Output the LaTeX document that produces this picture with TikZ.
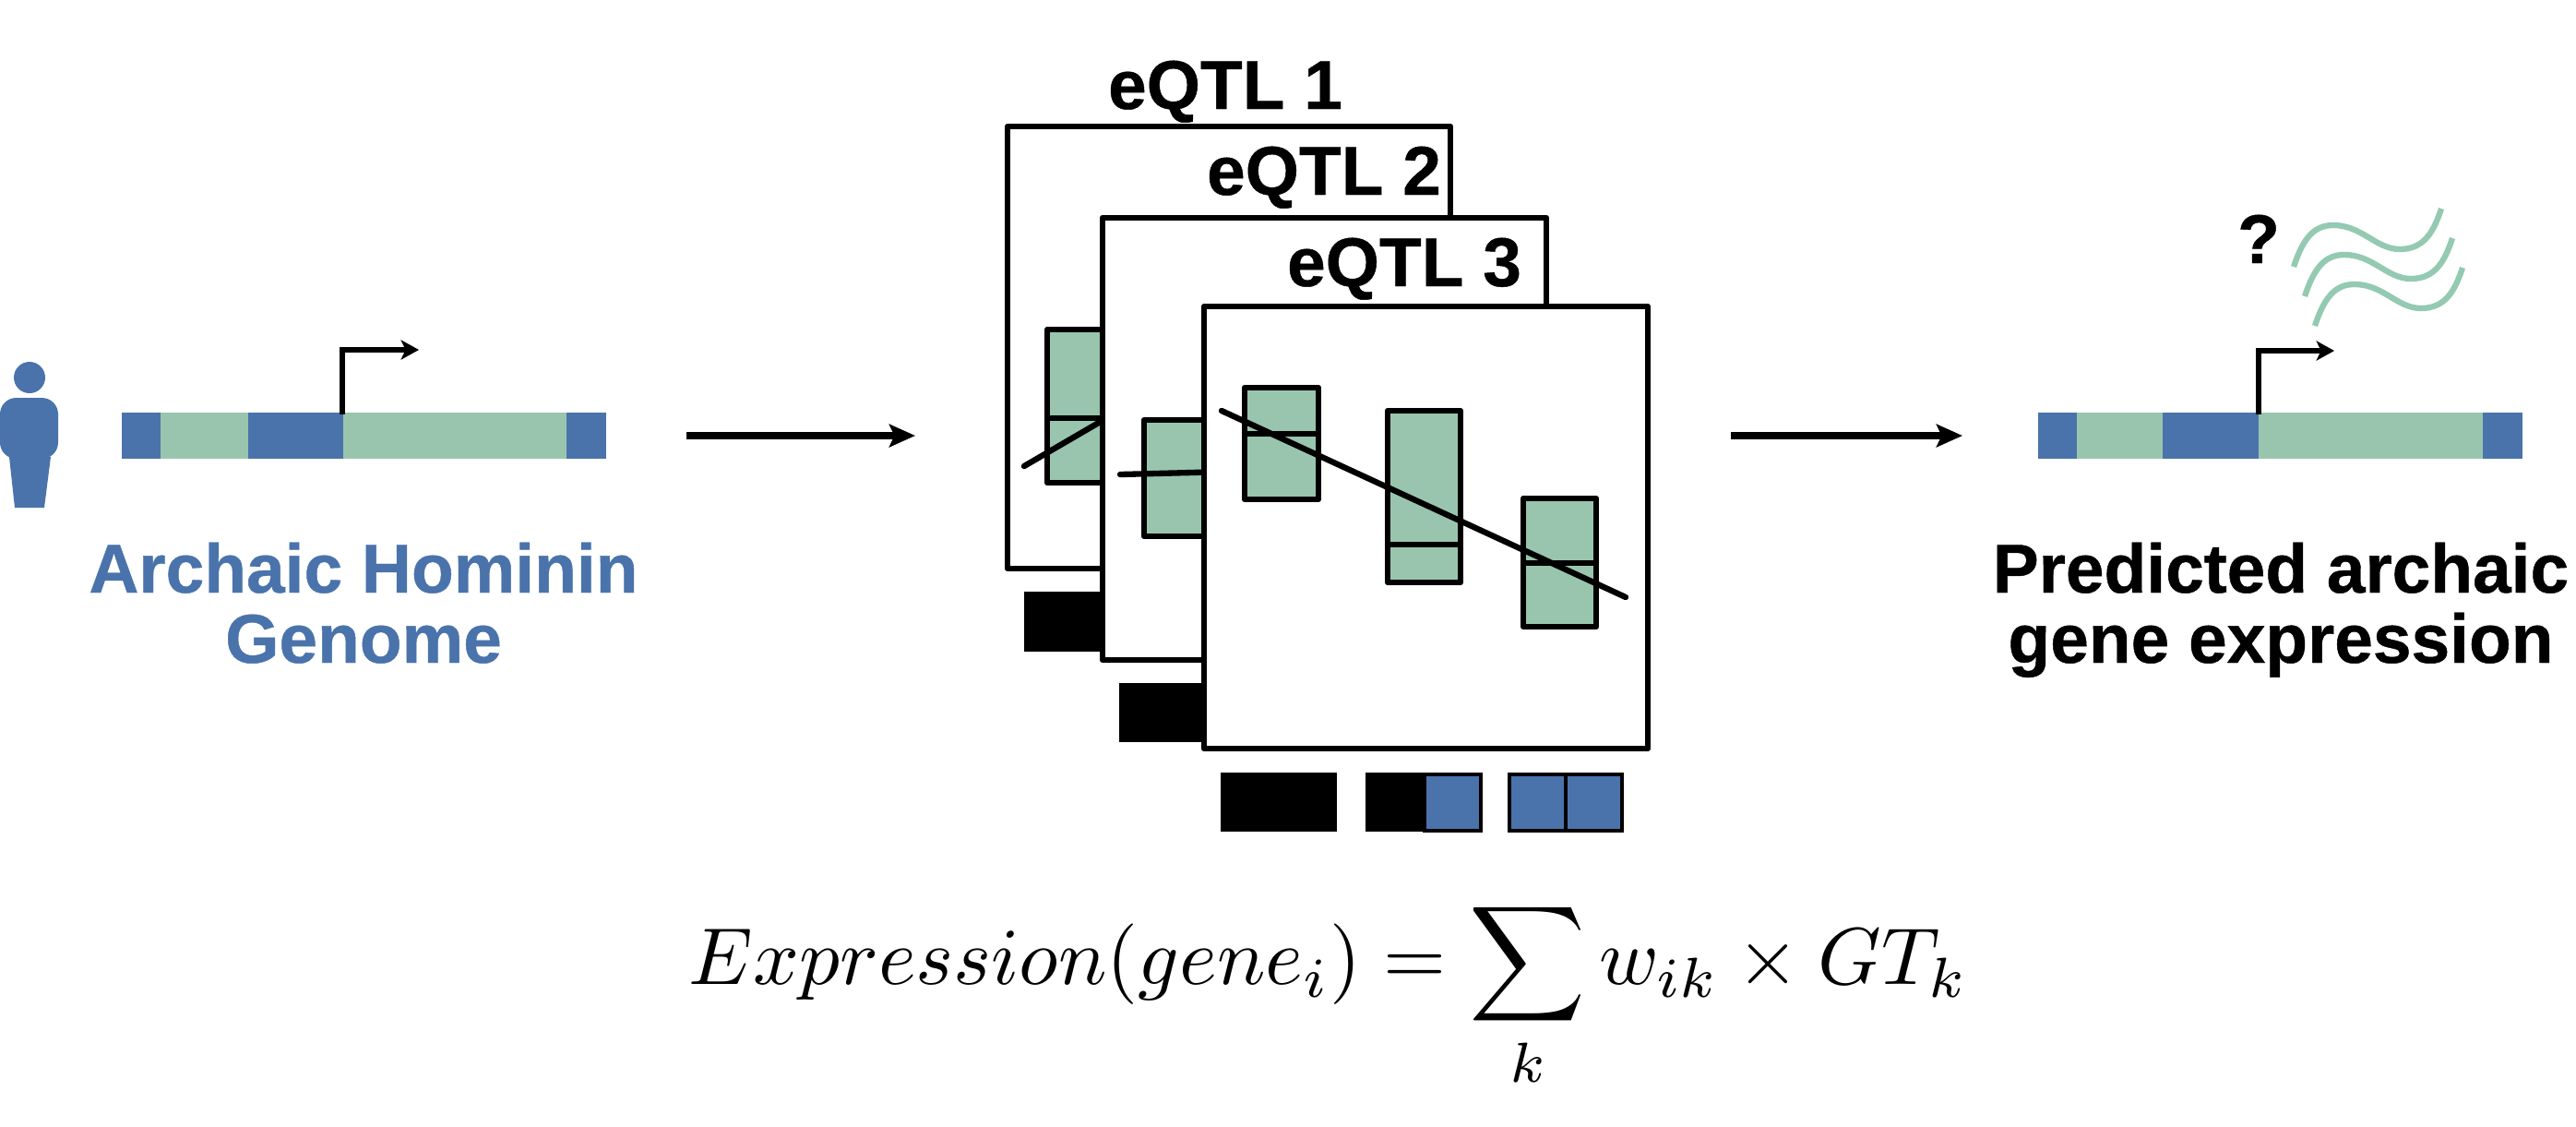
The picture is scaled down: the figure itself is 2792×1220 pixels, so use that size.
\documentclass[tikz,border=0pt]{standalone}
\usepackage[no-math]{fontspec}
\usepackage{amsmath,amsfonts}
\setmainfont{Liberation Sans}[BoldFeatures={FakeBold=0.6}]
\usetikzlibrary{arrows.meta}

\definecolor{genoblue}{HTML}{4A73AB}
\definecolor{genogreen}{HTML}{99C5AF}
\definecolor{wavegreen}{HTML}{93CAB1}

\tikzset{
    panel/.style={draw=black,fill=white,line width=1.8pt,line join=round},
    boxplot/.style={draw=black,fill=genogreen,line width=1.8pt,line join=round},
    fitline/.style={draw=black,line width=1.8pt,line cap=round},
    cellblack/.style={fill=black},
    cellblue/.style={draw=black,fill=genoblue,line width=1.1pt},
    bigarrow/.style={-{Stealth[length=8pt,width=7pt,inset=1.6pt]},line width=2.2pt},
    tssarrow/.style={-{Stealth[length=5.5pt,width=6pt,inset=1.4pt]},line width=1.8pt,line join=miter},
    wave/.style={draw=wavegreen,line width=1.8pt},
    title/.style={font=\fontsize{21.3}{21.3}\selectfont\bfseries,anchor=base,inner sep=0pt}
}

\begin{document}
\begin{tikzpicture}[x=0.01cm,y=-0.01cm]

        \useasboundingbox (0,0) rectangle (2792,1220);

        % person
        \fill[genoblue] (32,409) ellipse [x radius=17,y radius=17];
        \fill[genoblue,rounded corners=5pt] (0,497) -- (0,431) -- (63,431) -- (63,497) -- cycle;
        \fill[genoblue] (10,495) -- (55,495) -- (48,550) -- (16,550) -- cycle;

        % left gene
        \fill[genogreen] (132,447) rectangle (657,497);
        \fill[genoblue] (132,447) rectangle (174,497);
        \fill[genoblue] (269,447) rectangle (372,497);
        \fill[genoblue] (614,447) rectangle (657,497);
        \coordinate (tssA) at (371,449);
        \coordinate (tssAend) at (454,379);
        \draw[tssarrow] (tssA) |- (tssAend);

        \node[title,text=genoblue] (archaic) at (394,642) {Archaic Hominin};
        \node[title,text=genoblue] (genome) at (394,718) {Genome};

        \coordinate (inA) at (744,472);
        \coordinate (outA) at (992,472);
        \draw[bigarrow] (inA) -- (outA);

        % panels
        \node[title] (eqtlA) at (1328,118) {eQTL 1};
        \draw[panel] (1092,137) rectangle (1572,616);
        \draw[boxplot] (1135,357) rectangle (1220,523);
        \draw[boxplot] (1135,453) -- (1220,453);
        \draw[fitline] (1110,505) -- (1220,441);
        \fill[cellblack] (1110,641) rectangle (1230,706);
        \node[title] (eqtlB) at (1435,211) {eQTL 2};

        \draw[panel] (1195,236) rectangle (1676,715);
        \draw[boxplot] (1240,455) rectangle (1330,581);
        \draw[fitline] (1214,514) -- (1330,511);
        \fill[cellblack] (1213,740) rectangle (1330,804);
        \node[title] (eqtlC) at (1522,310) {eQTL 3};

        \draw[panel] (1305,332) rectangle (1786,811);
        \draw[boxplot] (1349,420) rectangle (1429,541);
        \draw[boxplot] (1349,470) -- (1429,470);
        \draw[boxplot] (1504,445) rectangle (1583,631);
        \draw[boxplot] (1504,590) -- (1583,590);
        \draw[boxplot] (1651,540) rectangle (1730,679);
        \draw[boxplot] (1651,610) -- (1730,610);
        \draw[fitline] (1324,445) -- (1762,647);

        % genotypes
        \fill[cellblack] (1323,837) rectangle (1449,901);
        \fill[cellblack] (1480,837) rectangle (1545,901);
        \draw[cellblue] (1544,839) rectangle (1605,900);
        \draw[cellblue] (1636,839) rectangle (1697,900);
        \draw[cellblue] (1697,839) rectangle (1758,900);

        \coordinate (inB) at (1876,472);
        \coordinate (outB) at (2127,472);
        \draw[bigarrow] (inB) -- (outB);

        % right gene
        \fill[genogreen] (2209,447) rectangle (2734,497);
        \fill[genoblue] (2209,447) rectangle (2251,497);
        \fill[genoblue] (2344,447) rectangle (2448,497);
        \fill[genoblue] (2691,447) rectangle (2734,497);
        \coordinate (tssB) at (2448,449);
        \coordinate (tssBend) at (2530,380);
        \draw[tssarrow] (tssB) |- (tssBend);

        \node[title] (unknown) at (2448,285) {?};
        \foreach \dx/\dy/\name in {0/0/waveA,12/32/waveB,23/64/waveC}
            \draw[wave,shift={(\dx,\dy)}] (2486,289) .. controls (2497,255) and (2510,244) .. (2529,244)
                .. controls (2560,244) and (2575,270) .. (2601,270)
                .. controls (2628,270) and (2638,250) .. (2646,226);

        \node[title] (predicted) at (2472,642) {Predicted archaic};
        \node[title] (expression) at (2472,718) {gene expression};

        % formula
        \node[scale=2.486,inner sep=0pt] (formula) at (1440,1078) {$\displaystyle Expression(gene_i) = \sum_k w_{ik} \times GT_k$};

\end{tikzpicture}
\end{document}
